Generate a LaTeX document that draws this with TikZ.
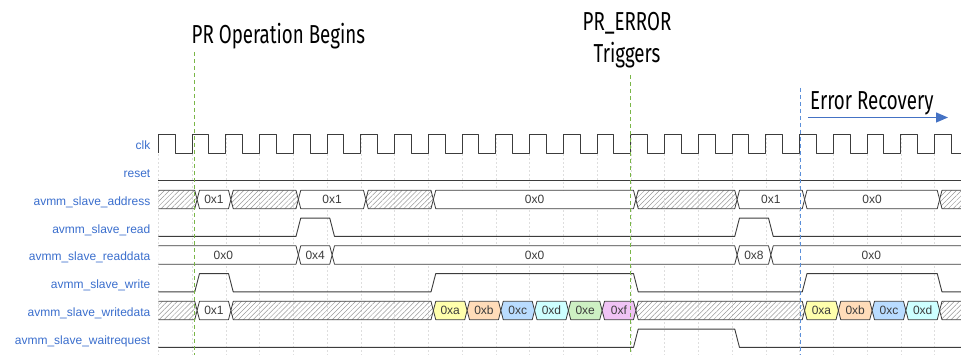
\documentclass[tikz,border=0pt]{standalone}
\usepackage{fontspec}
\setmainfont{Liberation Sans}
\newfontfamily\headfont[FakeStretch=0.72]{Fira Sans}
\usetikzlibrary{arrows.meta,patterns.meta}
\definecolor{sigline}{HTML}{3C3C3C}
\definecolor{labelblue}{RGB}{58,110,205}
\definecolor{gridgray}{HTML}{DEDEDE}
\definecolor{markgreen}{RGB}{122,182,72}
\definecolor{markblue}{RGB}{91,143,217}
\definecolor{arrowblue}{HTML}{4472C4}
\definecolor{vala}{RGB}{255,255,172}
\definecolor{valb}{RGB}{255,220,185}
\definecolor{valc}{RGB}{185,220,255}
\definecolor{vald}{RGB}{205,255,255}
\definecolor{vale}{RGB}{205,240,195}
\definecolor{valf}{RGB}{240,195,245}
\begin{document}
\begin{tikzpicture}[x=1pt,y=-1pt,
    sig/.style={draw=sigline, line width=0.9pt, line join=round},
    busline/.style={draw=sigline, line width=0.8pt, line join=round},
    hatch/.style={pattern={Lines[angle=45,distance=3.5pt,line width=0.5pt]}, pattern color=gray!80},
    gridline/.style={draw=gridgray, line width=0.5pt, dash pattern=on 2pt off 2pt},
    signame/.style={anchor=base east, inner sep=0pt, text=labelblue, font=\fontsize{12}{14}\selectfont},
    valtext/.style={inner sep=0pt, text=sigline, font=\fontsize{12}{14}\selectfont},
    headtext/.style={inner sep=0pt, font=\headfont\fontsize{26}{30}\selectfont},
    startmark/.style={draw=markgreen, line width=0.9pt, dash pattern=on 4pt off 3pt},
    recmark/.style={draw=markblue, line width=0.9pt, dash pattern=on 4pt off 3pt},
    recarrow/.style={draw=arrowblue, line width=1.3pt, -{Triangle[length=12pt,width=10pt]}}]
  \useasboundingbox (0,0) rectangle (961,355);

  % Signal names
  \foreach \n [count=\i from 0] in {clk,reset,avmm\_slave\_address,avmm\_slave\_read,avmm\_slave\_readdata,avmm\_slave\_write,avmm\_slave\_writedata,avmm\_slave\_waitrequest}
    \node[signame] (lab\i) at (150.5,{150+27.75*\i}) {\n};

  % Waveforms, one unit = one clock period
  \begin{scope}[shift={(158.3,144)}, x=33.75pt, y=-27.75pt]
    % Grid
    \foreach \k in {0,...,23}
      \draw[gridline] (\k,-0.35) -- (\k,7.6);
    % clk
    \draw[sig] (0,0.33) \foreach \k in {0,...,22}{ -- (\k,-0.33) -- (\k+0.5,-0.33) -- (\k+0.5,0.33) -- (\k+1,0.33)}
      -- (23,-0.33) -- (23.5,-0.33) -- (23.5,0.33) -- (23.78,0.33);
    % reset
    \draw[sig] (0,1.33) -- (23.78,1.33);
    % read
    \draw[sig] (0,3.33) -- (4.08,3.33) -- (4.22,2.67) -- (5.08,2.67) -- (5.22,3.33) -- (17.08,3.33)
      -- (17.22,2.67) -- (18.08,2.67) -- (18.22,3.33) -- (23.78,3.33);
    % write
    \draw[sig] (0,5.33) -- (1.08,5.33) -- (1.22,4.67) -- (2.08,4.67) -- (2.22,5.33) -- (8.08,5.33)
      -- (8.22,4.67) -- (14.08,4.67) -- (14.22,5.33) -- (19.08,5.33) -- (19.22,4.67) -- (23.08,4.67)
      -- (23.22,5.33) -- (23.78,5.33);
    % waitrequest
    \draw[sig] (0,7.33) -- (14.08,7.33) -- (14.22,6.67) -- (17.08,6.67) -- (17.22,7.33) -- (23.78,7.33);
    % Buses
    \begin{scope}
      \clip (0,-1) rectangle (23.78,8);
      \foreach \r/\a/\b in {2/-1/1, 2/2/4, 2/6/8, 2/14/17, 2/23/25, 6/-1/1, 6/2/8, 6/14/19, 6/23/25}
        \draw[busline, hatch] (\a+0.15,\r) -- (\a+0.22,\r-0.33) -- (\b+0.08,\r-0.33) -- (\b+0.15,\r)
          -- (\b+0.08,\r+0.33) -- (\a+0.22,\r+0.33) -- cycle;
      \foreach \r/\a/\b/\v/\c [count=\i] in {2/1/2/0x1/white, 2/4/6/0x1/white, 2/8/14/0x0/white, 2/17/19/0x1/white, 2/19/23/0x0/white,
          4/-1/4/0x0/white, 4/4/5/0x4/white, 4/5/17/0x0/white, 4/17/18/0x8/white, 4/18/25/0x0/white,
          6/1/2/0x1/white, 6/8/9/0xa/vala, 6/9/10/0xb/valb, 6/10/11/0xc/valc, 6/11/12/0xd/vald, 6/12/13/0xe/vale, 6/13/14/0xf/valf,
          6/19/20/0xa/vala, 6/20/21/0xb/valb, 6/21/22/0xc/valc, 6/22/23/0xd/vald}{
        \pgfmathsetmacro\m{(max(\a+0.15,-0.3)+min(\b+0.15,24.1))/2}
        \draw[busline, fill=\c] (\a+0.15,\r) -- (\a+0.22,\r-0.33) -- (\b+0.08,\r-0.33) -- (\b+0.15,\r)
          -- (\b+0.08,\r+0.33) -- (\a+0.22,\r+0.33) -- cycle;
        \node[valtext] (val\i) at (\m,\r) {\v};
      }
    \end{scope}
  \end{scope}

  % Event markers
  \draw[startmark] (194.3,52) -- (194.3,355);
  \draw[startmark] (630,75) -- (630,355);
  \draw[recmark] (800,88) -- (800,355);

  % Annotations
  \node[headtext, anchor=base west] (prbegin) at (191.5,43.3) {PR Operation Begins};
  \node[headtext, anchor=base] (prerror) at (627,31) {PR\_ERROR};
  \node[headtext, anchor=base] (triggers) at (627,63) {Triggers};
  \node[headtext, anchor=base west] (recovery) at (810,109.5) {Error Recovery};
  \coordinate (recstart) at (808,117.5);
  \coordinate (recend) at (948,117.5);
  \draw[recarrow] (recstart) -- (recend);
\end{tikzpicture}
\end{document}
